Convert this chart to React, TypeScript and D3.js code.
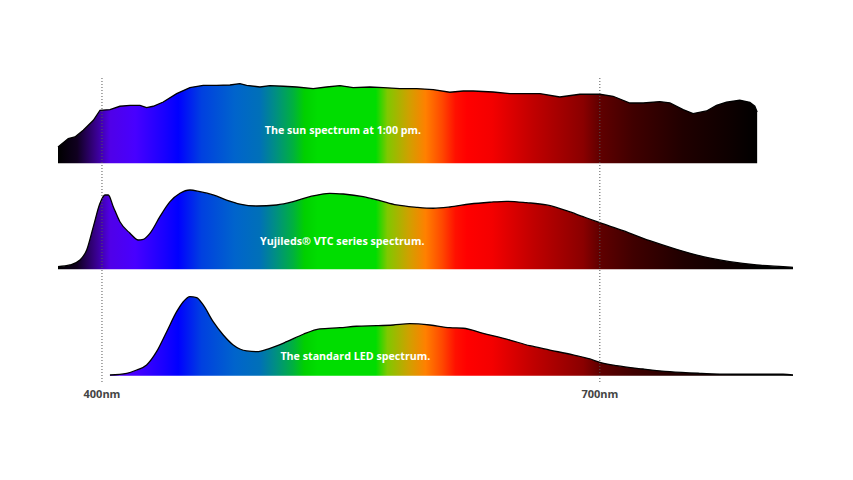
import React from "react";
import * as d3 from "d3";

const W = 853;
const H = 480;

// wavelength (nm) and relative intensity (0..1) for each spectrum
const sunNm = [373.5, 379.7, 383.7, 388.7, 394.8, 398.8, 404.8, 410.8, 416.9, 422.9, 426.9, 430.9, 436.9, 445.0, 453.0, 461.0, 469.1, 477.1, 483.1, 487.2, 495.2, 501.2, 509.2, 517.3, 527.3, 535.3, 543.4, 551.4, 561.4, 569.5, 579.5, 589.6, 599.6, 609.6, 617.7, 623.7, 635.7, 645.8, 663.9, 675.9, 688.0, 700.0, 708.0, 718.1, 726.1, 736.1, 742.2, 750.2, 756.2, 764.3, 770.3, 776.3, 784.3, 790.4, 793.4, 794.8];
const sunVal = [0.204, 0.309, 0.329, 0.413, 0.538, 0.663, 0.671, 0.713, 0.725, 0.725, 0.696, 0.713, 0.766, 0.871, 0.946, 0.975, 0.975, 0.979, 0.996, 0.975, 0.954, 0.971, 0.963, 0.954, 0.934, 0.954, 0.971, 0.946, 0.954, 0.946, 0.934, 0.934, 0.921, 0.888, 0.904, 0.904, 0.891, 0.871, 0.871, 0.829, 0.863, 0.863, 0.838, 0.754, 0.754, 0.771, 0.754, 0.671, 0.621, 0.654, 0.725, 0.763, 0.788, 0.763, 0.713, 0.641];

const vtcNm = [373.5, 380.7, 386.7, 390.8, 394.8, 398.8, 401.8, 403.8, 406.8, 410.8, 416.9, 421.9, 424.9, 428.9, 434.9, 441.0, 447.0, 453.0, 459.0, 467.0, 475.1, 483.1, 493.2, 505.2, 515.2, 525.3, 537.3, 545.4, 557.4, 567.5, 577.5, 589.6, 599.6, 609.6, 621.7, 633.7, 643.8, 655.8, 667.9, 679.9, 689.9, 700.0, 714.0, 730.1, 746.2, 762.2, 778.3, 794.4, 810.4, 816.4];
const vtcVal = [0.033, 0.054, 0.116, 0.241, 0.533, 0.825, 0.929, 0.929, 0.783, 0.595, 0.45, 0.366, 0.375, 0.45, 0.658, 0.845, 0.95, 0.991, 0.97, 0.929, 0.866, 0.816, 0.791, 0.804, 0.845, 0.908, 0.95, 0.941, 0.908, 0.858, 0.804, 0.775, 0.763, 0.779, 0.816, 0.838, 0.85, 0.833, 0.804, 0.733, 0.658, 0.583, 0.483, 0.358, 0.25, 0.158, 0.095, 0.054, 0.033, 0.025];

const ledNm = [404.8, 414.9, 420.9, 426.9, 432.9, 439.0, 445.0, 449.0, 453.0, 457.0, 461.0, 467.0, 473.1, 479.1, 487.2, 493.2, 501.2, 511.3, 521.3, 531.3, 543.4, 553.4, 565.5, 575.5, 585.5, 597.6, 609.6, 617.7, 629.7, 645.8, 657.8, 669.9, 683.9, 694.0, 700.0, 710.1, 726.1, 742.2, 760.2, 780.3, 810.4, 816.4];
const ledVal = [0.009, 0.03, 0.071, 0.134, 0.3, 0.55, 0.8, 0.925, 0.988, 0.975, 0.884, 0.675, 0.509, 0.384, 0.309, 0.3, 0.343, 0.425, 0.518, 0.584, 0.6, 0.618, 0.625, 0.634, 0.65, 0.634, 0.6, 0.593, 0.53, 0.446, 0.375, 0.321, 0.259, 0.209, 0.168, 0.125, 0.084, 0.05, 0.03, 0.018, 0.018, 0.009];

const panelLabels = [
  "The sun spectrum at 1:00 pm.",
  "Yujileds® VTC series spectrum.",
  "The standard LED spectrum.",
];
const labelNm = [545.2, 544.8, 552.7];

const tickNm = [400, 700];
const tickLabels = ["400nm", "700nm"];

// gradient stops: wavelength and colour
const stopNm = [373.5, 385, 395, 405, 420, 438, 446, 460, 480, 495, 505, 515, 522, 530, 565, 572, 585, 595, 605, 613, 620, 635, 660, 690, 700, 720, 750, 780, 795, 816.4];
const stopColor = ["#000000", "#100020", "#340080", "#5000e8", "#4800ff", "#1800ff", "#0000ff", "#0040e0", "#0064cc", "#0070b8", "#009080", "#00b040", "#00d000", "#00dd00", "#00dd00", "#80c800", "#d0a000", "#ff8000", "#ff4800", "#ff1000", "#ff0000", "#f40000", "#c00000", "#8a0000", "#600000", "#400000", "#200000", "#0c0000", "#000000", "#000000"];

const x = d3.scaleLinear().domain([373.5, 816.4]).range([58, 793]);

const panels = [
  { nm: sunNm, val: sunVal, base: 163.3, labelY: 133.5 },
  { nm: vtcNm, val: vtcVal, base: 269.3, labelY: 245 },
  { nm: ledNm, val: ledVal, base: 375.7, labelY: 359.5 },
];

export default function App() {
  return (
    <svg
      width={W}
      height={H}
      style={{ position: "absolute", left: 0, top: 0, background: "#fff" }}
      fontFamily="'Open Sans', sans-serif"
    >
      <defs>
        <linearGradient id="spec" gradientUnits="userSpaceOnUse" x1={x(373.5)} x2={x(816.4)} y1={0} y2={0}>
          {stopNm.map((n, i) => (
            <stop key={i} offset={(x(n) - x(373.5)) / (x(816.4) - x(373.5))} stopColor={stopColor[i]} />
          ))}
        </linearGradient>
      </defs>
      {panels.map((p, k) => {
        const y = d3.scaleLinear().domain([0, 1]).range([p.base, p.base - 80]);
        const pts = p.nm.map((n, i) => [n, p.val[i]] as [number, number]);
        const area = d3
          .area<[number, number]>()
          .x((d) => x(d[0]))
          .y0(p.base)
          .y1((d) => y(d[1]))
          .curve(k === 0 ? d3.curveLinear : d3.curveMonotoneX);
        const line = d3
          .line<[number, number]>()
          .x((d) => x(d[0]))
          .y((d) => y(d[1]))
          .curve(k === 0 ? d3.curveLinear : d3.curveMonotoneX);
        return (
          <g key={k}>
            <path d={area(pts) || ""} fill="url(#spec)" />
            <path d={line(pts) || ""} fill="none" stroke="#000" strokeWidth={1.3} />
            <text
              x={x(labelNm[k])}
              y={p.labelY}
              textAnchor="middle"
              fill="#fff"
              fontWeight="bold"
              fontSize={10.7}
            >
              {panelLabels[k]}
            </text>
          </g>
        );
      })}
      {tickNm.map((n, i) => (
        <g key={i}>
          <line x1={x(n)} x2={x(n)} y1={78} y2={383} stroke="#555" strokeWidth={1} strokeDasharray="1 2" />
          <text x={x(n)} y={397.5} textAnchor="middle" fill="#444" fontWeight="bold" fontSize={11}>
            {tickLabels[i]}
          </text>
        </g>
      ))}
    </svg>
  );
}
